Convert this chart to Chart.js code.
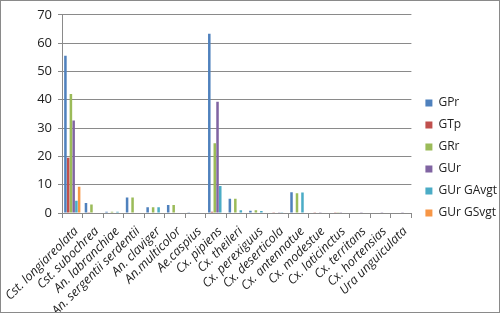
<!DOCTYPE html>
<html>
<head>
<meta charset="utf-8">
<script src="https://cdn.jsdelivr.net/npm/chart.js@4/dist/chart.umd.min.js"></script>
<style>
  html, body { margin: 0; padding: 0; background: #fff; }
  #wrap { width: 500px; height: 313px; box-sizing: border-box; border: 1px solid #8a8a8a; }
  #c { display: block; }
</style>
</head>
<body>
<div id="wrap"><canvas id="c" width="498" height="311"></canvas></div>
<script>
const categories = ['Cst. longiareolata', 'Cst. subochrea', 'An. labranchiae', 'An. sergentii serdentii',
  'An. claviger', 'An.multicolor', 'Ae.caspius', 'Cx. pipiens', 'Cx. theileri', 'Cx. perexiguus',
  'Cx. deserticola', 'Cx. antennatue', 'Cx. modestue', 'Cx. laticinctus', 'Cx. territans',
  'Cx. hortensias', 'Ura unguiculata'];

const gpr      = [55.5, 3.5, 0.4, 5.5, 2.0, 2.8, 0.1, 63.3, 5.0, 0.8, 0.2, 7.3, 0.2, 0.2, 0.2, 0.2, 0.2];
const gtp      = [19.5, 0.1, 0.0, 0.0, 0.0, 0.0, 0.0, 0.4, 0.2, 0.2, 0.3, 0.0, 0.1, 0.3, 0.0, 0.0, 0.0];
const grr      = [42.0, 3.0, 0.4, 5.5, 2.0, 2.8, 0.2, 24.6, 5.0, 1.0, 0.2, 7.0, 0.2, 0.3, 0.2, 0.2, 0.2];
const gur      = [32.7, 0.2, 0.0, 0.0, 0.0, 0.0, 0.0, 39.3, 0.2, 0.2, 0.1, 0.0, 0.1, 0.1, 0.1, 0.1, 0.1];
const gurGAvgt = [4.3, 0.2, 0.4, 0.0, 2.0, 0.0, 0.2, 9.5, 1.0, 0.7, 0.1, 7.2, 0.2, 0.2, 0.2, 0.2, 0.2];
const gurGSvgt = [9.3, 0.0, 0.0, 0.0, 0.0, 0.0, 0.0, 0.0, 0.0, 0.0, 0.0, 0.0, 0.0, 0.0, 0.0, 0.0, 0.0];

const yTicks = [0, 10, 20, 30, 40, 50, 60, 70];

const font = "'Open Sans', 'Liberation Sans', sans-serif";

function ds(label, data, color) {
  return { label: label, data: data, backgroundColor: color, borderWidth: 0 };
}

// nudge the legend box to where Excel puts it
const legendNudge = {
  id: 'legendNudge',
  afterUpdate(chart) {
    const lg = chart.legend;
    if (!lg) return;
    lg.left += 4; lg.right += 4;
    lg.top -= 5; lg.bottom -= 5;
    lg.adjustHitBoxes();
  }
};

new Chart(document.getElementById('c'), {
  type: 'bar',
  data: {
    labels: categories,
    datasets: [
      ds('GPr', gpr, '#4F81BD'),
      ds('GTp', gtp, '#C0504D'),
      ds('GRr', grr, '#9BBB59'),
      ds('GUr', gur, '#8064A2'),
      ds('GUr GAvgt', gurGAvgt, '#4BACC6'),
      ds('GUr GSvgt', gurGSvgt, '#F79646')
    ]
  },
  plugins: [legendNudge],
  options: {
    responsive: false,
    animation: false,
    categoryPercentage: 0.8,
    barPercentage: 0.92,
    layout: { padding: { top: 13, left: 0, right: -4, bottom: 0 } },
    plugins: {
      tooltip: { enabled: false },
      legend: {
        position: 'right',
        labels: {
          boxWidth: 7,
          boxHeight: 7,
          padding: 10,
          color: '#222',
          font: { family: font, size: 12 }
        }
      }
    },
    scales: {
      x: {
        grid: { offset: true, drawOnChartArea: false, drawTicks: true, tickLength: 5, color: '#8a8a8a' },
        border: { color: '#8a8a8a' },
        ticks: {
          minRotation: 45, maxRotation: 45, autoSkip: false,
          labelOffset: 4, padding: 6,
          color: '#222', font: { family: font, size: 12.5, style: 'italic' }
        },
        afterFit: function (s) { s.height = 99; s.paddingLeft = 0; s.paddingRight = 0; }
      },
      y: {
        min: 0, max: 70,
        afterBuildTicks: function (s) { s.ticks = yTicks.map(v => ({ value: v })); },
        grid: { color: '#8a8a8a', drawTicks: true, tickLength: 4 },
        border: { color: '#8a8a8a' },
        ticks: { color: '#222', padding: 6, font: { family: font, size: 13 } },
        afterFit: function (s) { s.width = 61; }
      }
    }
  }
});
</script>
</body>
</html>
